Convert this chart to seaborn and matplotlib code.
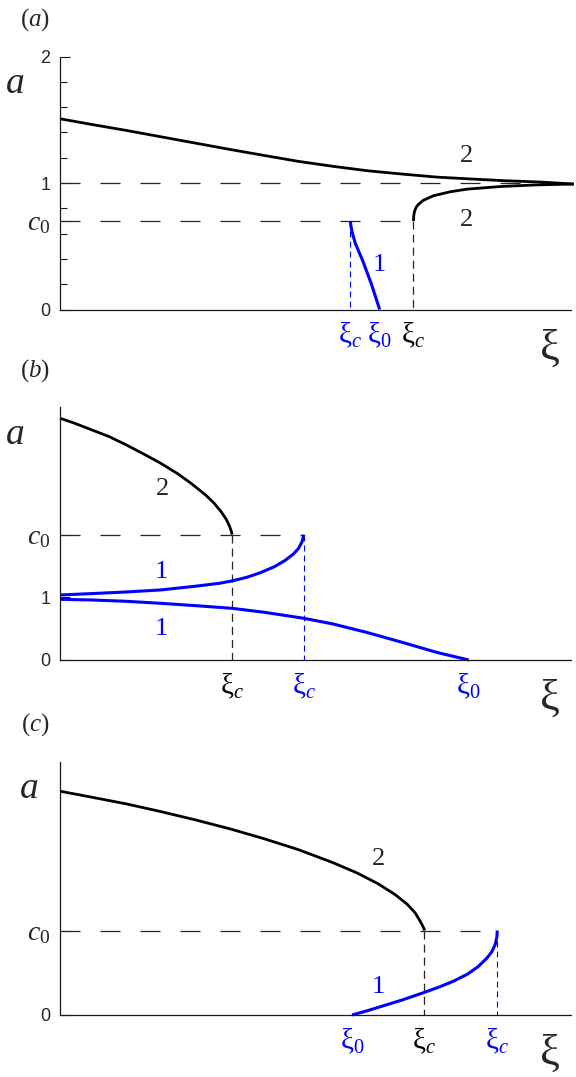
import matplotlib
matplotlib.use("Agg")
import matplotlib.pyplot as plt
import matplotlib.transforms as mtransforms
import seaborn as sns

# ---- panel (a) ----
c0_a = 0.70
xi_up_a = [0, 0.0621, 0.1296, 0.1970, 0.2645, 0.3320, 0.3995, 0.4669, 0.5344,
           0.6019, 0.6694, 0.7368, 0.8043, 0.8718, 0.9393, 1.0054]
amp_up_a = [1.508, 1.463, 1.416, 1.366, 1.316, 1.266, 1.218, 1.171, 1.132,
            1.097, 1.071, 1.047, 1.032, 1.018, 1.008, 0.992]
xi_lo_a = [0.6916, 0.6922, 0.6936, 0.6965, 0.7003, 0.7103, 0.7303, 0.7637, 0.797,
           0.864, 0.931, 1.0054]
amp_lo_a = [0.70, 0.74, 0.774, 0.805, 0.827, 0.862, 0.899, 0.931, 0.952,
            0.973, 0.985, 0.992]
xi_blue_a = [0.568, 0.5695, 0.5715, 0.578, 0.592, 0.609, 0.6255]
amp_blue_a = [0.70, 0.655, 0.613, 0.521, 0.389, 0.205, 0.0]
xic_blue_a, xi0_blue_a, xic_black_a = 0.568, 0.6255, 0.6916

# ---- panel (b) ----
c0_b = 2.0
xi_black_b = [0, 0.0283, 0.0621, 0.0958, 0.1296, 0.1633, 0.1970, 0.2308, 0.2578,
              0.2848, 0.3016, 0.3151, 0.3252, 0.3320, 0.3354, 0.3367]
amp_black_b = [3.856, 3.777, 3.670, 3.564, 3.431, 3.287, 3.138, 2.968, 2.809,
               2.633, 2.500, 2.367, 2.245, 2.128, 2.045, 2.0]
xi_up_b = [0, 0.0621, 0.1296, 0.1970, 0.2645, 0.3117, 0.3367, 0.3657, 0.3927,
           0.4197, 0.4399, 0.4568, 0.4669, 0.4737, 0.4771]
amp_up_b = [1.037, 1.059, 1.085, 1.117, 1.176, 1.223, 1.261, 1.319, 1.394,
            1.489, 1.585, 1.691, 1.782, 1.888, 2.0]
xi_lo_b = [0, 0.0621, 0.1296, 0.1970, 0.2645, 0.3367, 0.3995, 0.4771, 0.5344,
           0.6019, 0.6694, 0.7368, 0.7996]
amp_lo_b = [0.968, 0.957, 0.936, 0.904, 0.867, 0.824, 0.761, 0.665, 0.574,
            0.436, 0.282, 0.122, 0.0]
xic_black_b, xic_blue_b, xi0_blue_b = 0.3367, 0.4771, 0.7996

# ---- panel (c) ----
c0_c = 1.0
xi_black_c = [0, 0.0621, 0.1296, 0.1970, 0.2645, 0.3320, 0.3995, 0.4669, 0.5344,
              0.5816, 0.6221, 0.6559, 0.6795, 0.6950, 0.7045, 0.7099, 0.7126, 0.7132]
amp_black_c = [2.650, 2.579, 2.500, 2.409, 2.311, 2.205, 2.087, 1.957, 1.803,
               1.681, 1.555, 1.425, 1.311, 1.209, 1.114, 1.051, 1.016, 1.0]
xi_blue_c = [0.5715, 0.6019, 0.6356, 0.6694, 0.7132, 0.7436, 0.7706, 0.7976,
             0.8178, 0.8347, 0.8448, 0.8516, 0.8549, 0.8556]
amp_blue_c = [0.0, 0.051, 0.114, 0.177, 0.268, 0.335, 0.402, 0.484,
              0.571, 0.669, 0.748, 0.835, 0.925, 1.0]
xi0_blue_c, xic_black_c, xic_blue_c = 0.5715, 0.7132, 0.8556

BLUE = "#0000ff"
DASH_H = (0, (14.4, 14.4))
DASH_V = (0, (5.8, 3.6))
DASH_B = (0, (4.3, 2.9))

sns.set_theme(style="white")
plt.rcParams["font.family"] = ["Liberation Serif", "DejaVu Serif"]
plt.rcParams["mathtext.fontset"] = "custom"
plt.rcParams["mathtext.rm"] = "Liberation Serif"
plt.rcParams["mathtext.it"] = "Liberation Serif:italic"
plt.rcParams["mathtext.bf"] = "Liberation Serif:bold"
plt.rcParams["lines.scale_dashes"] = False


def curve(ax, xs, ys, color, lw):
    sns.lineplot(x=xs, y=ys, ax=ax, color=color, lw=lw, sort=False,
                 estimator=None, legend=False)
    ax.lines[-1].set_clip_on(False)
    ax.lines[-1].set_solid_capstyle("butt")
    ax.lines[-1].set_solid_joinstyle("round")


def setup(ax, ymax, ticks, labels, minor=None):
    ax.set_xlim(0, 1)
    ax.set_ylim(0, ymax)
    for s in ["top", "right"]:
        ax.spines[s].set_visible(False)
    for s in ["left", "bottom"]:
        ax.spines[s].set_linewidth(0.9)
        ax.spines[s].set_color("0.1")
    ax.set_xticks([])
    ax.set_yticks(ticks, labels=labels)
    ax.tick_params(axis="y", which="major", left=True, direction="in",
                   length=7.5, width=0.8, pad=7, color="0.1")
    if minor is not None:
        ax.set_yticks(minor, minor=True)
        ax.tick_params(axis="y", which="minor", left=True, direction="in",
                       length=4.8, width=0.8, color="0.1")
    for lab in ax.get_yticklabels():
        if "$" in lab.get_text():
            lab.set_fontsize(20)
        else:
            lab.set_fontfamily(["Liberation Sans", "DejaVu Sans"])
            lab.set_fontsize(13)


def xlabel(ax, x, txt, color):
    tr = mtransforms.blended_transform_factory(ax.transData, ax.transAxes)
    ax.text(x, -0.045, txt, transform=tr, ha="center", va="top",
            fontsize=21, color=color)


def common(ax, tag, ax_x):
    ax.text(-0.049, 1.146, tag, transform=ax.transAxes, fontsize=18,
            ha="center", va="center")
    ax.text(ax_x, 0.892, r"$a$", transform=ax.transAxes, fontsize=27,
            ha="center", va="center")
    ax.text(0.959, -0.154, "ξ", transform=ax.transAxes, fontsize=32,
            ha="center", va="center")


fig = plt.figure(figsize=(5.76, 10.77), dpi=100)
ax_a = fig.add_axes([0.1042, 0.7126, 0.8872, 0.2349])
ax_b = fig.add_axes([0.1042, 0.3872, 0.8872, 0.2346])
ax_c = fig.add_axes([0.1042, 0.0576, 0.8872, 0.2352])

# (a)
setup(ax_a, 2.0, [0, c0_a, 1, 2], ["0", r"$c_0$", "1", "2"],
      minor=[0.2, 0.4, 0.6, 0.8, 1.2, 1.4, 1.6, 1.8])
ax_a.plot([0, 1], [1, 1], color="0.15", lw=0.9, ls=DASH_H)
ax_a.plot([0, xic_black_a], [c0_a, c0_a], color="0.15", lw=0.9, ls=DASH_H)
ax_a.plot([xic_black_a, xic_black_a], [c0_a, 0], color="0.15", lw=0.9, ls=DASH_V)
ax_a.plot([xic_blue_a, xic_blue_a], [c0_a, 0], color=BLUE, lw=0.8, ls=DASH_B)
curve(ax_a, xi_up_a, amp_up_a, "black", 2.0)
curve(ax_a, xi_lo_a, amp_lo_a, "black", 2.0)
curve(ax_a, xi_blue_a, amp_blue_a, BLUE, 2.2)
ax_a.text(0.796, 1.217, "2", fontsize=19, ha="center", va="center")
ax_a.text(0.796, 0.707, "2", fontsize=19, ha="center", va="center")
ax_a.text(0.624, 0.352, "1", fontsize=19, ha="center", va="center", color=BLUE)
xlabel(ax_a, xic_blue_a, r"$\mathrm{ξ}_c$", BLUE)
xlabel(ax_a, xi0_blue_a, r"$\mathrm{ξ}_0$", BLUE)
xlabel(ax_a, xic_black_a, r"$\mathrm{ξ}_c$", "black")
common(ax_a, r"$(a)$", -0.088)

# (b)
setup(ax_b, 4.03, [0, 1, c0_b], ["0", "1", r"$c_0$"])
ax_b.plot([0, xic_blue_b], [c0_b, c0_b], color="0.15", lw=0.9, ls=DASH_H)
ax_b.plot([xic_black_b, xic_black_b], [c0_b, 0], color="0.15", lw=0.9, ls=DASH_V)
ax_b.plot([xic_blue_b, xic_blue_b], [c0_b, 0], color=BLUE, lw=0.8, ls=DASH_B)
curve(ax_b, xi_black_b, amp_black_b, "black", 2.0)
curve(ax_b, xi_up_b, amp_up_b, BLUE, 2.2)
curve(ax_b, xi_lo_b, amp_lo_b, BLUE, 2.2)
ax_b.text(0.2006, 2.73, "2", fontsize=19, ha="center", va="center")
ax_b.text(0.1987, 1.40, "1", fontsize=19, ha="center", va="center", color=BLUE)
ax_b.text(0.1987, 0.495, "1", fontsize=19, ha="center", va="center", color=BLUE)
xlabel(ax_b, xic_black_b, r"$\mathrm{ξ}_c$", "black")
xlabel(ax_b, xic_blue_b, r"$\mathrm{ξ}_c$", BLUE)
xlabel(ax_b, xi0_blue_b, r"$\mathrm{ξ}_0$", BLUE)
common(ax_b, r"$(b)$", -0.088)

# (c)
setup(ax_c, 3.0, [0, c0_c], ["0", r"$c_0$"])
ax_c.plot([0, xic_blue_c], [c0_c, c0_c], color="0.15", lw=0.9, ls=DASH_H)
ax_c.plot([xic_black_c, xic_black_c], [c0_c, 0], color="0.15", lw=0.9, ls=DASH_V)
ax_c.plot([xic_blue_c, xic_blue_c], [c0_c, 0], color=BLUE, lw=0.8, ls=DASH_B)
curve(ax_c, xi_black_c, amp_black_c, "black", 2.0)
curve(ax_c, xi_blue_c, amp_blue_c, BLUE, 2.2)
ax_c.text(0.6235, 1.85, "2", fontsize=19, ha="center", va="center")
ax_c.text(0.623, 0.327, "1", fontsize=19, ha="center", va="center", color=BLUE)
xlabel(ax_c, xi0_blue_c, r"$\mathrm{ξ}_0$", BLUE)
xlabel(ax_c, xic_black_c, r"$\mathrm{ξ}_c$", "black")
xlabel(ax_c, xic_blue_c, r"$\mathrm{ξ}_c$", BLUE)
common(ax_c, r"$(c)$", -0.061)

fig.savefig("out.png", dpi=100)
